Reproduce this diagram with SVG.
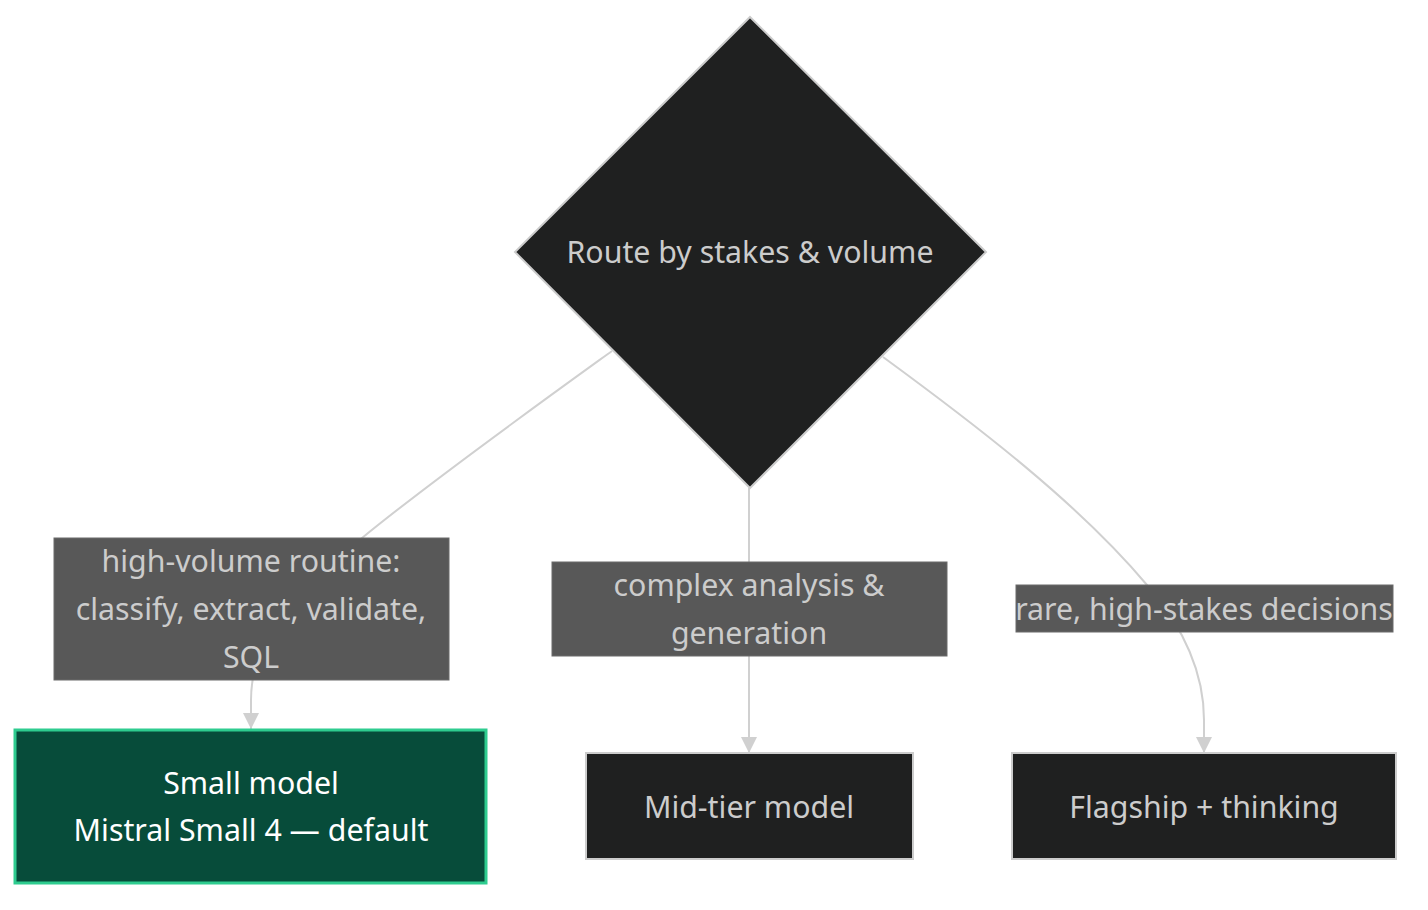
<svg xmlns="http://www.w3.org/2000/svg" width="1428" height="910" viewBox="0 0 1428 910">
<defs>
<style>
.lbl{font-family:"Trebuchet MS","Noto Sans","DejaVu Sans",sans-serif;font-size:30.3px;fill:#cccccc;text-anchor:middle;dominant-baseline:central}
.nt{font-family:"Trebuchet MS","Noto Sans","DejaVu Sans",sans-serif;font-size:30.3px;fill:#cccccc;text-anchor:middle;dominant-baseline:central}
.edge{fill:none;stroke:#d0d0d0;stroke-width:2}
.lblbox{fill:#585858;stroke:#6a6a6a;stroke-width:1}
.dark{fill:#1f2020;stroke:#cccccc;stroke-width:2}
</style>
<marker id="arr" viewBox="0 0 16 16" refX="16" refY="8" markerWidth="16" markerHeight="16" markerUnits="userSpaceOnUse" orient="auto">
<path d="M0,0 L16,8 L0,16 z" fill="#d0d0d0"/>
</marker>
</defs>
<rect width="1428" height="910" fill="#ffffff"/>
<g id="connectors">
<path class="edge" d="M612,351 C540,403 430,482 362,538 C290,598 251,640 251,700 L251,729" marker-end="url(#arr)"/>
<path class="edge" d="M749,488 L749,753" marker-end="url(#arr)"/>
<path class="edge" d="M883,357 C980,428 1080,505 1147,585 C1190,635 1204,680 1204,720 L1204,753" marker-end="url(#arr)"/>
</g>
<g id="edge-labels">
<g id="label-small">
<rect class="lblbox" x="54" y="538" width="395" height="142"/>
<text class="lbl" x="251" y="560">high-volume routine:</text>
<text class="lbl" x="251" y="608">classify, extract, validate,</text>
<text class="lbl" x="251" y="656">SQL</text>
</g>
<g id="label-mid">
<rect class="lblbox" x="552" y="562" width="395" height="94"/>
<text class="lbl" x="749" y="584">complex analysis &amp;</text>
<text class="lbl" x="749" y="632">generation</text>
</g>
<g id="label-flag">
<rect class="lblbox" x="1016" y="585" width="377" height="47"/>
<text class="lbl" x="1204" y="608">rare, high-stakes decisions</text>
</g>
</g>
<g id="node-route">
<polygon class="dark" points="750,17 986,252 750,488 515,252"/>
<text class="nt" x="750" y="251">Route by stakes &amp; volume</text>
</g>
<g id="node-small">
<rect x="15" y="730" width="471" height="153" fill="#074c3a" stroke="#2ecc8f" stroke-width="3"/>
<text class="nt" x="251" y="782" style="fill:#ffffff">Small model</text>
<text class="nt" x="251" y="829" style="fill:#ffffff">Mistral Small 4 — default</text>
</g>
<g id="node-mid">
<rect class="dark" x="586" y="753" width="327" height="106"/>
<text class="nt" x="749" y="806">Mid-tier model</text>
</g>
<g id="node-flag">
<rect class="dark" x="1012" y="753" width="384" height="106"/>
<text class="nt" x="1204" y="806">Flagship + thinking</text>
</g>
</svg>
